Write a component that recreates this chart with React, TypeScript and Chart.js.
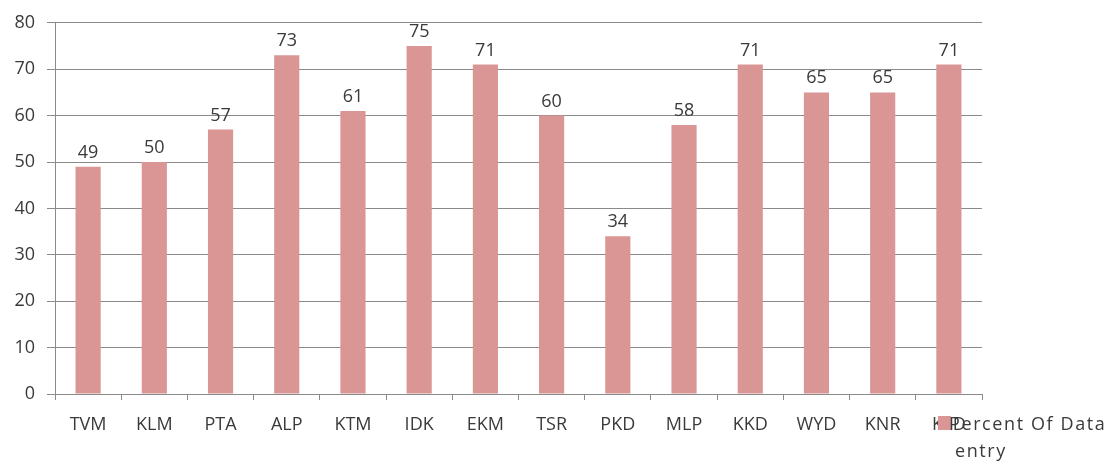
import React, { useEffect, useRef } from "react";
import { Chart, registerables } from "chart.js";

Chart.register(...registerables);

const categories = ["TVM", "KLM", "PTA", "ALP", "KTM", "IDK", "EKM", "TSR", "PKD", "MLP", "KKD", "WYD", "KNR", "KSD"];
const percentValues = [49, 50, 57, 73, 61, 75, 71, 60, 34, 58, 71, 65, 65, 71];
const seriesName = ["Percent Of Data", "entry"];
const yTicks = [0, 10, 20, 30, 40, 50, 60, 70, 80];

const BAR = "#D99694";
const GRID = "#8a8a8a";
const TEXT = "#3a3a3a";
const FONT = "'Open Sans', 'Liberation Sans', sans-serif";
const FS = 18;

const labelPlugin = {
  id: "valueLabels",
  afterDatasetsDraw(chart: any) {
    const ctx = chart.ctx;
    const meta = chart.getDatasetMeta(0);
    ctx.save();
    ctx.font = `${FS}px ${FONT}`;
    ctx.fillStyle = TEXT;
    ctx.textAlign = "center";
    ctx.textBaseline = "alphabetic";
    meta.data.forEach((bar: any, i: number) => {
      ctx.fillText(String(percentValues[i]), bar.x, bar.y - 9);
    });
    ctx.restore();
  },
};

const legendPlugin = {
  id: "customLegend",
  afterDraw(chart: any) {
    const ctx = chart.ctx;
    const area = chart.chartArea;
    const x = area.right - 44;
    const y = area.bottom + 22;
    ctx.save();
    ctx.fillStyle = BAR;
    ctx.fillRect(x, y, 13, 14);
    ctx.font = `${FS}px ${FONT}`;
    ctx.fillStyle = TEXT;
    ctx.textAlign = "left";
    ctx.textBaseline = "middle";
    (ctx as any).letterSpacing = "1.6px";
    ctx.fillText(seriesName[0], x + 11, y + 9);
    ctx.fillText(seriesName[1], x + 17, y + 36);
    ctx.restore();
  },
};

export default function App() {
  const ref = useRef<HTMLCanvasElement>(null);
  useEffect(() => {
    document.body.style.margin = "0";
    const chart = new Chart(ref.current!, {
      type: "bar",
      data: {
        labels: categories,
        datasets: [
          {
            label: seriesName.join(" "),
            data: percentValues,
            backgroundColor: BAR,
            borderWidth: 0,
            categoryPercentage: 1,
            barPercentage: 0.38,
          },
        ],
      },
      options: {
        animation: false,
        responsive: false,
        maintainAspectRatio: false,
        layout: { padding: { left: 0, right: 133, top: 22, bottom: 0 } },
        plugins: { legend: { display: false }, tooltip: { enabled: false } },
        scales: {
          x: {
            grid: {
              offset: true,
              drawOnChartArea: false,
              drawTicks: true,
              tickLength: 6,
              color: GRID,
            },
            border: { color: GRID, width: 1 },
            ticks: { font: { size: FS, family: FONT }, color: TEXT, padding: 14 },
            afterFit(scale: any) {
              scale.height = 70;
            },
          },
          y: {
            min: 0,
            max: 80,
            afterBuildTicks(scale: any) {
              scale.ticks = yTicks.map((v) => ({ value: v }));
            },
            grid: { color: GRID, tickLength: 8, drawTicks: true },
            border: { color: GRID, width: 1 },
            ticks: { font: { size: FS, family: FONT }, color: TEXT, padding: 12 },
            afterFit(scale: any) {
              scale.width = 55;
            },
          },
        },
      },
      plugins: [labelPlugin, legendPlugin],
    });
    return () => chart.destroy();
  }, []);
  return (
    <div style={{ width: 1115, height: 464, background: "#fff" }}>
      <canvas ref={ref} width={1115} height={464} />
    </div>
  );
}
